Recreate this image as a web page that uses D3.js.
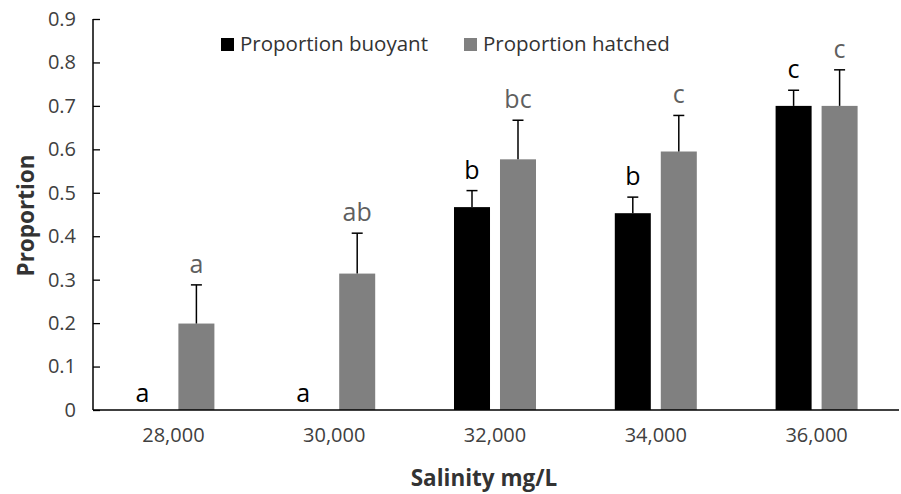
<!DOCTYPE html>
<html>
<head>
<meta charset="utf-8">
<script src="https://cdn.jsdelivr.net/npm/d3@7"></script>
<style>
  body { margin: 0; background: #fff; }
  text { font-family: "Open Sans", sans-serif; }
</style>
</head>
<body>
<div id="chart"></div>
<script>
const WIDTH = 901;
const HEIGHT = 494;
const MARGIN = {top: 19, right: 4, bottom: 84, left: 93};

const salinity = ["28,000", "30,000", "32,000", "34,000", "36,000"];
const seriesNames = ["Proportion buoyant", "Proportion hatched"];
const seriesColors = ["#000000", "#808080"];
const labelColors = ["#000000", "#5f5f5f"];
const buoyant = [0, 0, 0.467, 0.453, 0.700];
const buoyantErr = [0, 0, 0.038, 0.037, 0.036];
const hatched = [0.199, 0.314, 0.577, 0.595, 0.700];
const hatchedErr = [0.089, 0.093, 0.090, 0.083, 0.083];
const buoyantLetters = ["a", "a", "b", "b", "c"];
const hatchedLetters = ["a", "ab", "bc", "c", "c"];
const yTicks = [0, 0.1, 0.2, 0.3, 0.4, 0.5, 0.6, 0.7, 0.8, 0.9];

// build rows for drawing
let rows = [];
salinity.forEach((s, i) => {
  rows.push({cat: s, series: 0, value: buoyant[i], err: buoyantErr[i], letter: buoyantLetters[i]});
  rows.push({cat: s, series: 1, value: hatched[i], err: hatchedErr[i], letter: hatchedLetters[i]});
});

let svg = d3.select("#chart")
  .append("svg")
  .attr("width", WIDTH)
  .attr("height", HEIGHT);

let x0 = d3.scaleBand()
  .domain(salinity)
  .range([MARGIN.left, WIDTH - MARGIN.right])
  .paddingInner(0.49)
  .paddingOuter(0.245);

let x1 = d3.scaleBand()
  .domain([0, 1])
  .range([0, x0.bandwidth()])
  .paddingInner(0.217);

let y = d3.scaleLinear()
  .domain([0, 0.9])
  .range([HEIGHT - MARGIN.bottom, MARGIN.top]);

let cx = d => x0(d.cat) + x1(d.series) + x1.bandwidth() / 2;

// bars
svg.append("g")
  .selectAll("rect")
  .data(rows.filter(d => d.value > 0))
  .enter()
  .append("rect")
  .attr("x", d => x0(d.cat) + x1(d.series))
  .attr("y", d => y(d.value))
  .attr("width", x1.bandwidth())
  .attr("height", d => y(0) - y(d.value))
  .style("fill", d => seriesColors[d.series]);

// error bars (upper only)
let err = svg.append("g")
  .selectAll("g")
  .data(rows.filter(d => d.err > 0))
  .enter()
  .append("g")
  .style("stroke", "#000")
  .style("stroke-width", 1.5);

err.append("line")
  .attr("x1", cx)
  .attr("x2", cx)
  .attr("y1", d => y(d.value))
  .attr("y2", d => y(d.value + d.err));

err.append("line")
  .attr("x1", d => cx(d) - 5.5)
  .attr("x2", d => cx(d) + 5.5)
  .attr("y1", d => y(d.value + d.err))
  .attr("y2", d => y(d.value + d.err));

// significance letters (zero bars: letter sits on the axis, nudged left)
svg.append("g")
  .selectAll("text")
  .data(rows)
  .enter()
  .append("text")
  .attr("x", d => d.value > 0 ? cx(d) : cx(d) - 8)
  .attr("y", d => d.value > 0 ? y(d.value + d.err) - 12 : y(0) - 8)
  .attr("text-anchor", "middle")
  .style("font-size", "25px")
  .style("fill", d => labelColors[d.series])
  .text(d => d.letter);

// y axis
let yAxis = svg.append("g")
  .attr("transform", `translate(${MARGIN.left},0)`)
  .call(d3.axisLeft(y).tickValues(yTicks).tickSize(-7).tickPadding(17)
    .tickFormat(d => d === 0 ? "0" : d3.format(".1f")(d)));
yAxis.select(".domain").attr("stroke-width", 1.5).attr("d", `M0,${y(0.9)}V${y(0)}`);
yAxis.selectAll(".tick line").attr("stroke-width", 1.3);
yAxis.selectAll("text")
  .style("font-size", "20px")
  .style("fill", "#404040")
  .style("font-family", "'Open Sans', sans-serif");

// x axis
let xAxis = svg.append("g")
  .attr("transform", `translate(0,${y(0)})`)
  .call(d3.axisBottom(x0).tickSize(0).tickPadding(18));
xAxis.select(".domain").attr("stroke-width", 1.5)
  .attr("d", `M${MARGIN.left},0H${WIDTH - 2}`);
xAxis.selectAll("text")
  .style("font-size", "20px")
  .style("fill", "#404040")
  .style("font-family", "'Open Sans', sans-serif");

// axis titles
svg.append("text")
  .attr("x", 484)
  .attr("y", 486)
  .attr("text-anchor", "middle")
  .style("font-size", "22.5px")
  .style("font-weight", "bold")
  .style("fill", "#333")
  .text("Salinity mg/L");

svg.append("text")
  .attr("transform", `translate(34,215.5) rotate(-90)`)
  .attr("text-anchor", "middle")
  .style("font-size", "22.5px")
  .style("font-weight", "bold")
  .style("fill", "#333")
  .text("Proportion");

// legend
let legendX = [221, 464];
let legend = svg.append("g")
  .selectAll("g")
  .data(seriesNames)
  .enter()
  .append("g")
  .attr("transform", (d, i) => `translate(${legendX[i]},38)`);

legend.append("rect")
  .attr("width", 13)
  .attr("height", 13)
  .style("fill", (d, i) => seriesColors[i]);

legend.append("text")
  .attr("x", 19)
  .attr("y", 13)
  .style("font-size", "20.5px")
  .style("fill", "#333")
  .text(d => d);
</script>
</body>
</html>
